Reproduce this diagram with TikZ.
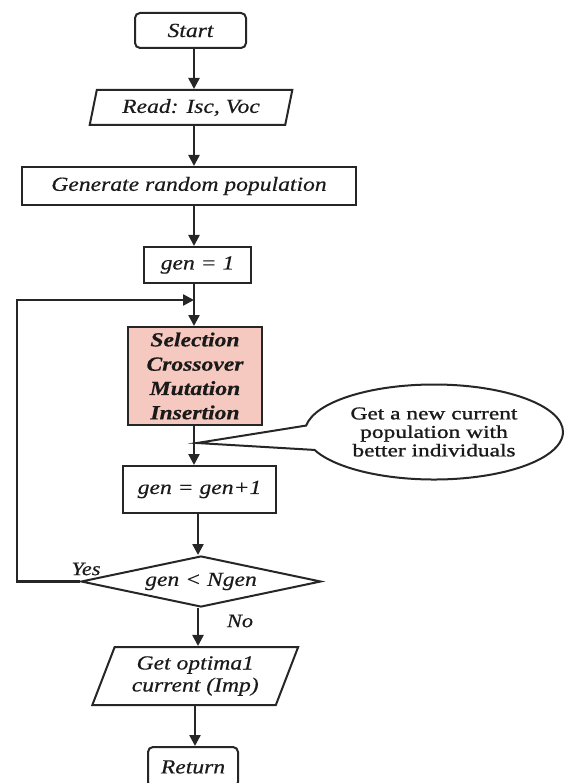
\documentclass[tikz,border=0pt]{standalone}
\usepackage{fontspec}
\setmainfont{Liberation Serif}
\newfontfamily\boxfont[FakeStretch=1.18,FakeBold=0.4]{Liberation Serif}
\newfontfamily\notefont[FakeStretch=1.3,FakeBold=1.2]{Liberation Serif}
\usetikzlibrary{shapes.geometric,shapes.callouts,arrows.meta}
\definecolor{ln}{HTML}{262626}
\definecolor{txt}{HTML}{1A1A1A}
\definecolor{pinkfill}{RGB}{246,201,192}
\begin{document}
\begin{tikzpicture}[x=1pt,y=-1pt,
  box/.style={draw=ln, line width=2pt, rectangle, inner sep=0pt, fill=white, text=txt,
    font=\boxfont\itshape\fontsize{20}{24}\selectfont},
  term/.style={box, rounded corners=5pt},
  iobox/.style={box, trapezium, trapezium stretches=true},
  arr/.style={draw=ln, line width=2.4pt, -{Triangle[length=11pt,width=11pt]}},
  lab/.style={text=txt, inner sep=0pt, font=\boxfont\itshape\fontsize{19}{22}\selectfont}
]
\useasboundingbox (0,0) rectangle (565,783);
\clip (0,0) rectangle (565,783);

\coordinate (ax) at (194,0);
\coordinate (axb) at (198,0);
\coordinate (axc) at (195,0);
\coordinate (lx) at (17,0);
\coordinate (join) at (194,300);
\coordinate (tip) at (197,443);

\node[term, minimum width=111pt, minimum height=35pt] (start) at (190.5,30.5) {Start};
\node[iobox, trapezium left angle=73, trapezium right angle=107,
      minimum width=203pt, minimum height=35pt] (read) at (191,107.5) {Read: Isc, Voc};
\node[box, minimum width=334pt, minimum height=38pt] (gen) at (189,186) {Generate random population};
\node[box, minimum width=107pt, minimum height=36pt] (g1) at (197.5,265) {gen = 1};
\node[box, fill=pinkfill, minimum width=134pt, minimum height=98pt, align=center,
      font=\boxfont\bfseries\itshape\fontsize{20}{24.3}\selectfont] (sel) at (195,376)
      {Selection\\Crossover\\Mutation\\Insertion};
\node[box, minimum width=153pt, minimum height=47pt] (gp) at (199.5,489.5) {gen = gen+1};
\node[box, diamond, aspect=4.7, minimum width=240pt, minimum height=51pt] (dia) at (201,581.5) {gen < Ngen};
\node[iobox, trapezium left angle=66, trapezium right angle=114,
      minimum width=206pt, minimum height=58pt, align=center,
      font=\boxfont\itshape\fontsize{20}{22}\selectfont] (opt) at (195.25,676)
      {Get optima1\\current (Imp)};
\node[term, minimum width=90pt, minimum height=40pt] (ret) at (193,767) {Return};

\node[lab] (yes) at (86,569) {Yes};
\node[lab] (no) at (240,621) {No};

\draw[arr] (start.south -| ax) -- (read.north -| ax);
\draw[arr] (read.south -| ax) -- (gen.north -| ax);
\draw[arr] (gen.south -| ax) -- (g1.north -| ax);
\draw[arr] (g1.south -| ax) -- (sel.north -| ax);
\draw[arr] (sel.south -| ax) -- (gp.north -| ax);
\draw[arr] (gp.south -| axb) -- (dia.north -| axb);
\draw[arr] (dia.south -| axb) -- (opt.north -| axb);
\draw[arr] (opt.south -| axc) -- (ret.north -| axc);
\draw[arr] (dia.west) -- (dia.west -| lx) |- (join);

\node[ellipse callout, draw=ln, line width=2pt, fill=white, text=txt,
      minimum width=258pt, minimum height=95pt, inner sep=0pt,
      callout absolute pointer={(tip)}, callout pointer arc=30, align=center,
      font=\notefont\fontsize{18}{18.5}\selectfont] (note) at (434,432)
      {Get a new current\\population with\\better individuals};
\end{tikzpicture}
\end{document}
